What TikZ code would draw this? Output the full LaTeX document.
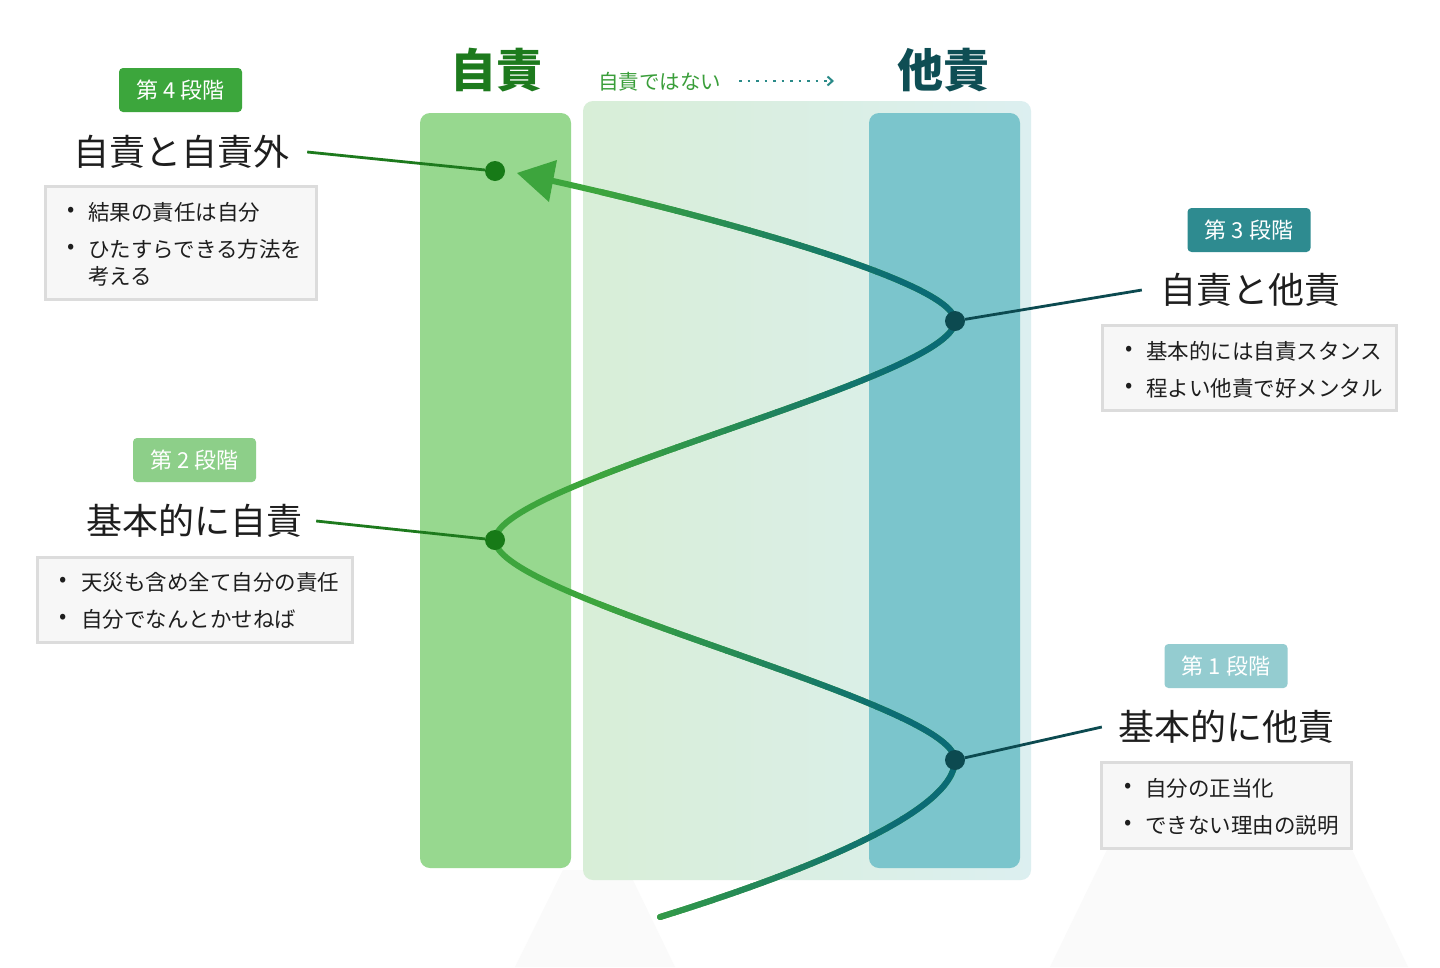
\documentclass[tikz,border=0pt]{standalone}
\usepackage{fontspec}
\setmainfont{Noto Sans CJK JP}
\usetikzlibrary{arrows.meta}
\definecolor{cGreenCol}{HTML}{97D88F}
\definecolor{cTealCol}{HTML}{7BC5CC}
\definecolor{cBandL}{HTML}{D8EED7}
\definecolor{cBandR}{HTML}{DCEFF0}
\definecolor{cCurveG}{HTML}{3DA53D}
\definecolor{cCurveT}{HTML}{0B6B75}
\definecolor{cDotG}{HTML}{177A17}
\definecolor{cDotT}{HTML}{0C4A50}
\definecolor{cHeadG}{HTML}{1D7A1D}
\definecolor{cHeadT}{HTML}{0E4E54}
\definecolor{cSub}{HTML}{3A9E3A}
\definecolor{cArr}{HTML}{2A8A88}
\definecolor{cS4}{HTML}{3CA63C}
\definecolor{cS3}{HTML}{2E8B90}
\definecolor{cS2}{HTML}{8DCF89}
\definecolor{cS1}{HTML}{94CCD0}
\definecolor{cBoxFill}{HTML}{F7F7F7}
\definecolor{cBoxLine}{HTML}{DCDCDC}
\definecolor{cText}{HTML}{1E1E1E}
\definecolor{cGhost}{HTML}{FAFAFA}
\tikzset{
  stagelabel/.style={rounded corners=4pt, text=white, font=\fontsize{22}{26}\selectfont, minimum width=123pt, minimum height=44pt, inner sep=0pt},
  titletext/.style={text=cText, font=\fontsize{36}{40}\selectfont, inner sep=0pt},
  bulletbox/.style={fill=cBoxFill, draw=cBoxLine, line width=3pt},
  btext/.style={text=cText, font=\fontsize{21.5}{24}\selectfont, anchor=west, inner sep=0pt},
  bdot/.style={btext, anchor=center},
  leaderG/.style={draw=cHeadG, line width=2.8pt},
  leaderT/.style={draw=cDotT, line width=2.8pt},
  dotG/.style={circle, fill=cDotG, minimum size=20pt, inner sep=0pt},
  dotT/.style={circle, fill=cDotT, minimum size=20pt, inner sep=0pt},
  curveline/.style={line width=6pt, line cap=round},
  header/.style={font=\fontsize{46}{50}\selectfont\bfseries, inner sep=0pt},
}
\begin{document}
\begin{tikzpicture}[x=1pt,y=-1pt]
\useasboundingbox (0,0) rectangle (1440,967);
\fill[white] (0,0) rectangle (1440,967);
% faint ghost shapes
\fill[cGhost] (563,870) -- (628,870) -- (675,967) -- (515,967) -- cycle;
\fill[cGhost] (1107,850) -- (1352,850) -- (1408,967) -- (1050,967) -- cycle;
% band and columns
\shade[left color=cBandL, right color=cBandR, rounded corners=10pt] (583,101) rectangle (1031,880);
\fill[cGreenCol, rounded corners=10pt] (420,113) rectangle (571,868);
\fill[cTealCol, rounded corners=10pt] (869,113) rectangle (1020,868);
% headers
\node[header, text=cHeadG] (hSelf) at (496,70) {自責};
\node[header, text=cHeadT] (hOther) at (943,70) {他責};
\node[text=cSub, font=\fontsize{20.5}{24}\selectfont, anchor=west, inner sep=0pt] (hNot) at (598,82) {自責ではない};
\coordinate (arrS) at (739,81);
\coordinate (arrE) at (834,81);
\draw[cArr, line width=2pt, dash pattern=on 2.5pt off 6pt, -{Straight Barb[length=5pt,width=9pt]}] (arrS) -- (arrE);
% curve points
\coordinate (pA) at (660,917);
\coordinate (pB) at (955,760);
\coordinate (pC) at (495,540);
\coordinate (pD) at (955,321);
\coordinate (pE) at (553,181);
\coordinate (tipP) at (517,173);
\coordinate (tipU) at (557,160);
\coordinate (tipL) at (549,202);
\def\curvepath{(pA) .. controls (805,872) and (955,812) .. (pB) .. controls (955,702) and (495,598) .. (pC) .. controls (495,482) and (955,379) .. (pD) .. controls (955,280) and (688,211) .. (pE)}
\draw[curveline, cCurveG] \curvepath;
\foreach \i in {0,...,23}{
  \pgfmathsetmacro{\xa}{600+\i*12.5}
  \pgfmathsetmacro{\xb}{\xa+13.3}
  \pgfmathsetmacro{\pc}{(\i+0.5)/24*100}
  \begin{scope}
    \clip (\xa,0) rectangle (\xb,967);
    \draw[curveline, cCurveT!\pc!cCurveG] \curvepath;
  \end{scope}
}
\begin{scope}
  \clip (900,0) rectangle (1000,967);
  \draw[curveline, cCurveT] \curvepath;
\end{scope}
\fill[cCurveG] (tipP) -- (tipU) -- (tipL) -- cycle;
% dots
\node[dotG] (d4) at (495,171) {};
\node[dotT] (d3) at (pD) {};
\node[dotG] (d2) at (pC) {};
\node[dotT] (d1) at (pB) {};
% stage 4
\node[stagelabel, fill=cS4] (s4) at (180.5,90) {第 4 段階};
\node[titletext] (t4) at (181,152) {自責と自責外};
\draw[leaderG] ([xshift=18pt]t4.east) -- (d4);
\draw[bulletbox] (45,186) rectangle (316,299);
\node[bdot] (b4a) at (71,212) {•};
\node[btext] (l4a) at (88,212) {結果の責任は自分};
\node[bdot] (b4b) at (71,249) {•};
\node[btext] (l4b) at (88,249) {ひたすらできる方法を};
\node[btext] (l4c) at (88,276) {考える};
% stage 3
\node[stagelabel, fill=cS3] (s3) at (1249,230) {第 3 段階};
\node[titletext] (t3) at (1250,290) {自責と他責};
\draw[leaderT] (d3) -- ([xshift=-18pt]t3.west);
\draw[bulletbox] (1102,325) rectangle (1396,410);
\node[bdot] (b3a) at (1129,351) {•};
\node[btext] (l3a) at (1146,351) {基本的には自責スタンス};
\node[bdot] (b3b) at (1129,388) {•};
\node[btext] (l3b) at (1146,388) {程よい他責で好メンタル};
% stage 2
\node[stagelabel, fill=cS2] (s2) at (194.5,460) {第 2 段階};
\node[titletext] (t2) at (194,521) {基本的に自責};
\draw[leaderG] ([xshift=14pt]t2.east) -- (d2);
\draw[bulletbox] (37,557) rectangle (352,642);
\node[bdot] (b2a) at (63,582) {•};
\node[btext] (l2a) at (81,582) {天災も含め全て自分の責任};
\node[bdot] (b2b) at (63,619) {•};
\node[btext] (l2b) at (81,619) {自分でなんとかせねば};
% stage 1
\node[stagelabel, fill=cS1] (s1) at (1226,666) {第 1 段階};
\node[titletext] (t1) at (1226,727) {基本的に他責};
\draw[leaderT] (d1) -- ([xshift=-16pt]t1.west);
\draw[bulletbox] (1101,762) rectangle (1351,848);
\node[bdot] (b1a) at (1128,788) {•};
\node[btext] (l1a) at (1145,788) {自分の正当化};
\node[bdot] (b1b) at (1128,825) {•};
\node[btext] (l1b) at (1145,825) {できない理由の説明};
\end{tikzpicture}
\end{document}
